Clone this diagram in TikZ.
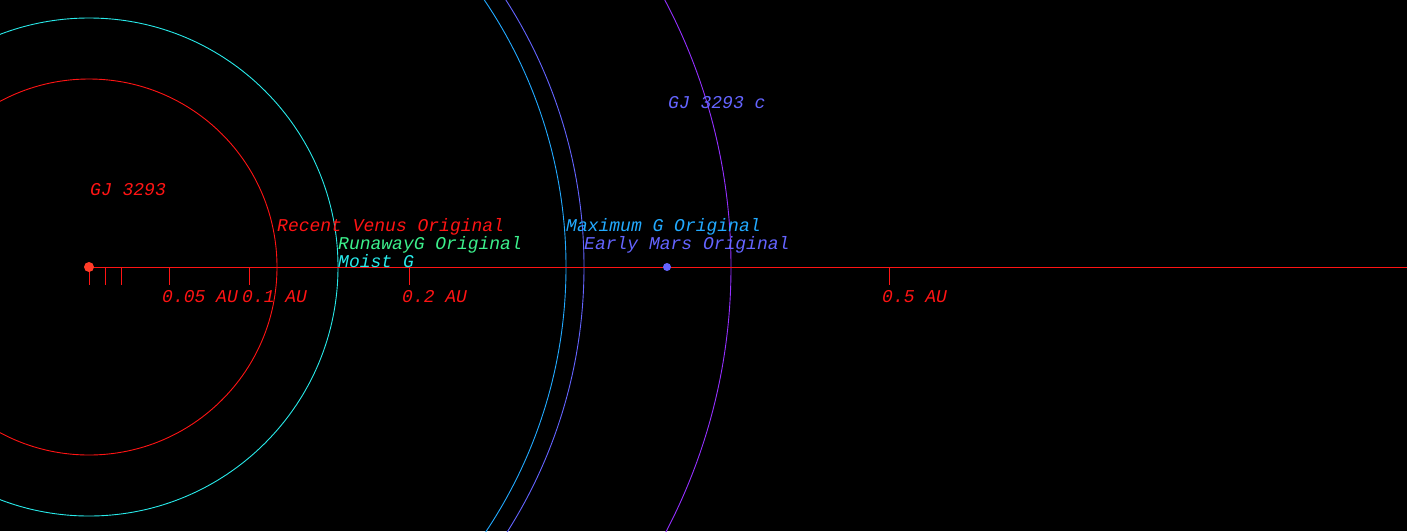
\documentclass[tikz,border=0pt]{standalone}
\usepackage{fontspec}
\newfontfamily\orbitfont{Liberation Mono}
\usetikzlibrary{positioning}
\definecolor{hzred}{HTML}{FF1414}
\definecolor{hzgreen}{HTML}{3CF08C}
\definecolor{hzcyan}{HTML}{28EAEA}
\definecolor{hzsky}{HTML}{22AAFF}
\definecolor{hzblue}{HTML}{6464FF}
\definecolor{hzpurple}{HTML}{9430FF}
\definecolor{stardot}{HTML}{FF3C28}
\tikzset{
  lbl/.style={font=\orbitfont\itshape\fontsize{18}{18}\selectfont, anchor=base west, inner sep=0pt},
  zone/.style={line width=0.9pt},
}

\begin{document}
\begin{tikzpicture}[x=1pt, y=-1pt]
	\fill [black] (0,0) rectangle (1407,531);
	\useasboundingbox (0,0) rectangle (1407,531);
	\clip (0,0) rectangle (1407,531);
	% habitable zone edges round the star
	\coordinate (star) at (89,267);
	\draw [zone, hzred] (star) circle (188);
	\draw [zone, hzcyan] (star) circle (249);
	\draw [zone, hzsky] (star) circle (477);
	\draw [zone, hzblue] (star) circle (495);
	% orbit of planet c
	\draw [zone, hzpurple] (154,267) ellipse (577 and 573.5);
	% scale axis
	\coordinate (axisend) at (1407,267);
	\draw [hzred, line width=0.9pt] (star) -- (axisend);
	\foreach \au/\nm in {0/t0, 0.01/t1, 0.02/t2, 0.05/t5, 0.1/t10, 0.2/t20, 0.5/t50}
		\draw [hzred, line width=0.9pt] (89+1600*\au,267) coordinate (\nm) -- ++(0,18);
	\node [lbl, hzred] (l5) at (162,302) {0.05 AU};
	\node [lbl, hzred] (l10) at (242,302) {0.1 AU};
	\node [lbl, hzred] (l20) at (402,302) {0.2 AU};
	\node [lbl, hzred] (l50) at (882,302) {0.5 AU};
	% bodies
	\fill [stardot] (star) circle (5);
	\fill [hzblue] (667,267) coordinate (planet) circle (4);
	\node [lbl, hzred] (starname) at (90,195) {GJ 3293};
	\node [lbl, hzblue] (planetname) at (668,108) {GJ 3293 c};
	% zone names
	\node [lbl, hzred] (venus) at (277,231) {Recent Venus Original};
	\node [lbl, hzgreen] (runaway) at (338,249) {RunawayG Original};
	\node [lbl, hzcyan] (moist) at (338,267) {Moist G};
	\node [lbl, hzsky] (maxg) at (566,231) {Maximum G Original};
	\node [lbl, hzblue] (mars) at (584,249) {Early Mars Original};
\end{tikzpicture}
\end{document}
